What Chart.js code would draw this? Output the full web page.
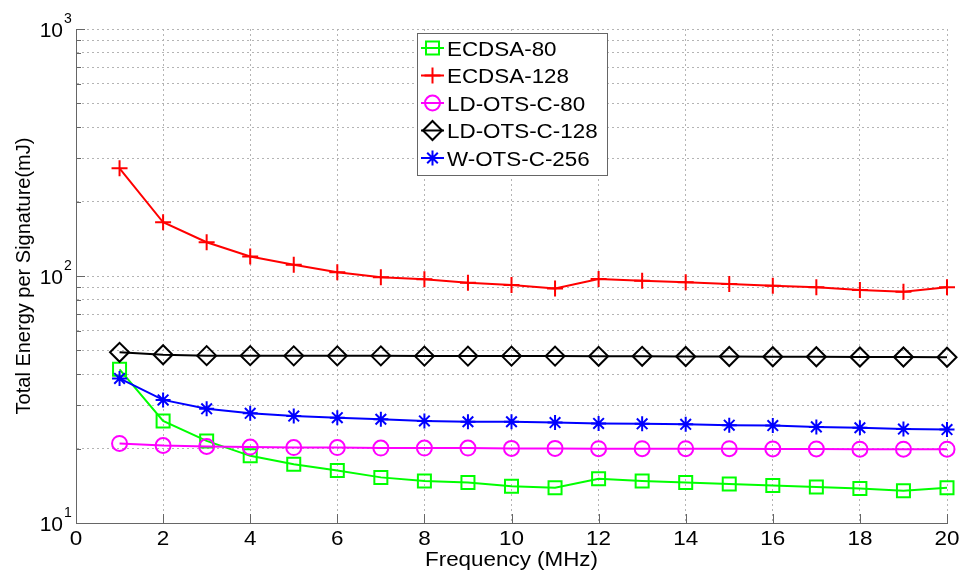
<!DOCTYPE html>
<html>
<head>
<meta charset="utf-8">
<script src="https://cdn.jsdelivr.net/npm/chart.js@4/dist/chart.umd.min.js"></script>
<style>
  html, body { margin: 0; padding: 0; background: #fff; }
  canvas { display: block; }
</style>
</head>
<body>
<canvas id="grafica" width="963" height="574"></canvas>
<script>
// valores (escala logaritmica en Y)
const frecuencias = [1, 2, 3, 4, 5, 6, 7, 8, 9, 10, 11, 12, 13, 14, 15, 16, 17, 18, 19, 20];

const ecdsa80 = [41.9, 25.9, 21.5, 18.7, 17.3, 16.3, 15.3, 14.8, 14.6, 14.1, 13.9, 15.1, 14.8, 14.6, 14.4, 14.2, 14.0, 13.8, 13.5, 13.9];
const ecdsa128 = [273, 165, 137, 120, 111, 103.5, 98.8, 97, 94, 92, 89, 97.2, 95.7, 94.3, 92.8, 91.3, 90, 87.8, 86.4, 90];
const ldots80 = [21.0, 20.6, 20.4, 20.3, 20.2, 20.2, 20.1, 20.1, 20.1, 20.05, 20.05, 20.0, 20.0, 20.0, 20.0, 19.95, 19.95, 19.9, 19.9, 19.9];
const ldots128 = [49.1, 48.0, 47.6, 47.6, 47.5, 47.5, 47.5, 47.4, 47.4, 47.4, 47.4, 47.3, 47.3, 47.2, 47.2, 47.1, 47.1, 47.0, 47.0, 46.9];
const wots256 = [38.5, 31.5, 29.0, 27.8, 27.1, 26.7, 26.3, 25.9, 25.7, 25.7, 25.5, 25.3, 25.2, 25.1, 24.9, 24.8, 24.5, 24.3, 24.0, 23.9];

const etiquetas = ['ECDSA-80', 'ECDSA-128', 'LD-OTS-C-80', 'LD-OTS-C-128', 'W-OTS-C-256'];

// ticks del eje Y (lineas de rejilla en cada valor) y potencias con etiqueta
const yRejilla = [10, 20, 30, 40, 50, 60, 70, 80, 90, 100, 200, 300, 400, 500, 600, 700, 800, 900, 1000];
const yPotencias = [10, 100, 1000];
const yExponentes = ['1', '2', '3'];
const xTicks = [0, 2, 4, 6, 8, 10, 12, 14, 16, 18, 20];

const FUENTE = '"Liberation Sans", Arial, sans-serif';
const EJE = '#666666';
// la figura original esta algo estirada en horizontal
const ESTIRADO = 1.12;

const estilos = [
  { color: '#00ff00', punto: 'rect', radio: 9.2 },
  { color: '#ff0000', punto: 'cross', radio: 8 },
  { color: '#ff00ff', punto: 'circle', radio: 7.5 },
  { color: '#000000', punto: 'rectRot', radio: 9.5 },
  { color: '#0000ff', punto: 'star', radio: 7.5 },
];

const series = [ecdsa80, ecdsa128, ldots80, ldots128, wots256];

const datasets = series.map((valores, i) => ({
  label: etiquetas[i],
  data: frecuencias.map((f, k) => ({ x: f, y: valores[k] })),
  borderColor: estilos[i].color,
  backgroundColor: 'rgba(0,0,0,0)',
  borderWidth: 2,
  pointStyle: estilos[i].punto,
  pointRadius: estilos[i].radio,
  pointBorderWidth: 2,
  pointBorderColor: estilos[i].color,
  pointBackgroundColor: 'rgba(0,0,0,0)',
  tension: 0,
  clip: false,
  order: series.length - i,
}));

function texto(ctx, str, x, y, align, escala) {
  ctx.save();
  ctx.translate(x, y);
  ctx.scale(escala, 1);
  ctx.textAlign = align;
  ctx.fillText(str, 0, 0);
  ctx.restore();
}

// ============================================================
// dibujo estilo MATLAB: ticks hacia dentro, etiquetas 10^n,
// titulos de ejes y leyenda con recuadro dentro del area
// ============================================================
const pluginMatlab = {
  id: 'matlab',
  afterDraw(chart) {
    const ctx = chart.ctx;
    const area = chart.chartArea;
    const sx = chart.scales.x;
    const sy = chart.scales.y;

    ctx.save();
    ctx.strokeStyle = EJE;
    ctx.lineWidth = 1;
    ctx.beginPath();
    xTicks.forEach(v => {
      const px = Math.round(sx.getPixelForValue(v)) + 0.5;
      ctx.moveTo(px, area.bottom);
      ctx.lineTo(px, area.bottom - 9);
    });
    yRejilla.forEach(v => {
      const py = Math.round(sy.getPixelForValue(v)) + 0.5;
      const largo = yPotencias.includes(v) ? 9 : 5;
      ctx.moveTo(area.left, py);
      ctx.lineTo(area.left + largo, py);
    });
    ctx.stroke();

    ctx.fillStyle = '#000';
    ctx.textBaseline = 'alphabetic';

    // etiquetas del eje X
    ctx.font = '21px ' + FUENTE;
    xTicks.forEach(v => {
      texto(ctx, String(v), sx.getPixelForValue(v), 545, 'center', 1.07);
    });

    // etiquetas 10^n
    yPotencias.forEach((v, i) => {
      const py = sy.getPixelForValue(v);
      ctx.font = '21px ' + FUENTE;
      texto(ctx, '10', area.left - 13, py + 7.5, 'right', 1);
      ctx.font = '14px ' + FUENTE;
      texto(ctx, yExponentes[i], area.left - 12, py - 6, 'left', 1);
    });

    // titulos de ejes
    ctx.font = '20px ' + FUENTE;
    texto(ctx, 'Frequency (MHz)', (area.left + area.right) / 2, 566, 'center', ESTIRADO);
    ctx.save();
    ctx.translate(30, (area.top + area.bottom) / 2);
    ctx.rotate(-Math.PI / 2);
    ctx.textAlign = 'center';
    ctx.fillText('Total Energy per Signature(mJ)', 0, 0);
    ctx.restore();

    // leyenda
    const lx = 417, ly = 33, lw = 190, lh = 142;
    ctx.fillStyle = '#fff';
    ctx.fillRect(lx, ly, lw, lh);
    ctx.strokeStyle = EJE;
    ctx.strokeRect(lx + 0.5, ly + 0.5, lw, lh);
    ctx.font = '20px ' + FUENTE;
    chart.data.datasets.forEach((ds, i) => {
      const cy = 48 + i * 27.5;
      ctx.strokeStyle = ds.borderColor;
      ctx.lineWidth = 2;
      ctx.beginPath();
      ctx.moveTo(421, cy);
      ctx.lineTo(444, cy);
      ctx.stroke();
      ctx.fillStyle = 'rgba(0,0,0,0)';
      Chart.helpers.drawPoint(ctx, {
        pointStyle: ds.pointStyle,
        radius: ds.pointRadius,
        borderWidth: 2,
        rotation: 0,
      }, 432.5, cy);
      ctx.fillStyle = '#000';
      texto(ctx, ds.label, 447, cy + 7.5, 'left', ESTIRADO);
    });
    ctx.restore();
  },
};

new Chart(document.getElementById('grafica'), {
  type: 'line',
  data: { datasets },
  options: {
    responsive: false,
    animation: false,
    devicePixelRatio: 1,
    layout: { padding: { top: 29, right: 16, left: 0, bottom: 0 } },
    plugins: { legend: { display: false }, tooltip: { enabled: false } },
    scales: {
      x: {
        type: 'linear',
        min: 0,
        max: 20,
        afterBuildTicks: s => { s.ticks = xTicks.map(v => ({ value: v })); },
        ticks: { display: false },
        grid: { color: '#b4b4b4', drawTicks: false, lineWidth: 1 },
        border: { color: EJE, width: 1, dash: [2, 3] },
        afterFit: s => { s.height = 51; },
      },
      y: {
        type: 'logarithmic',
        min: 10,
        max: 1000,
        afterBuildTicks: s => { s.ticks = yRejilla.map(v => ({ value: v })); },
        ticks: { display: false },
        grid: { color: '#b4b4b4', drawTicks: false, lineWidth: 1 },
        border: { color: EJE, width: 1, dash: [2, 3] },
        afterFit: s => { s.width = 76; },
      },
    },
  },
  plugins: [pluginMatlab],
});
</script>
</body>
</html>
